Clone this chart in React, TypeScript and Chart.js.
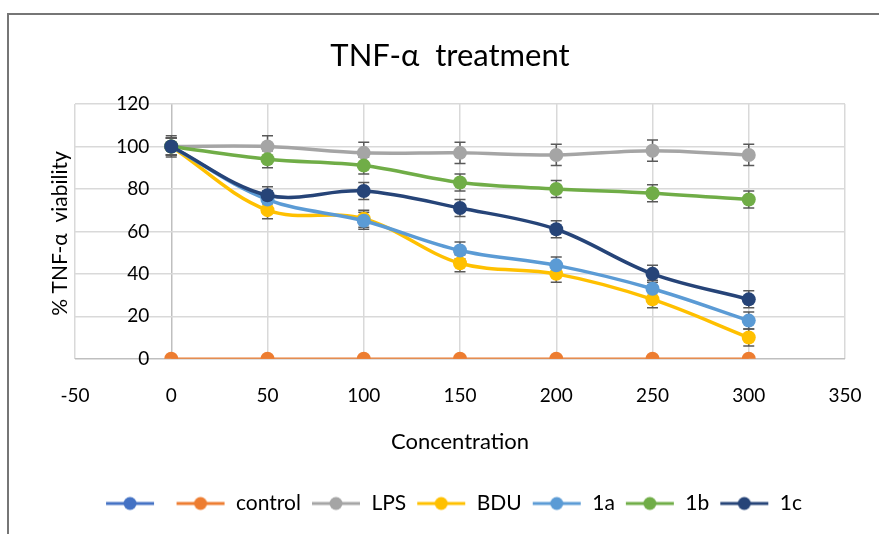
import React, { useEffect, useRef } from 'react';
import { Chart, registerables } from 'chart.js';

Chart.register(...registerables);

const concentrations = [0, 50, 100, 150, 200, 250, 300];
const seriesLabels = ['', 'control', 'LPS', 'BDU', '1a', '1b', '1c'];
const seriesColors = ['#4472C4', '#ED7D31', '#A5A5A5', '#FFC000', '#5B9BD5', '#70AD47', '#264478'];
const blankValues: number[] = [];
const controlValues = [0, 0, 0, 0, 0, 0, 0];
const lpsValues = [100, 100, 97, 97, 96, 98, 96];
const bduValues = [100, 70, 66, 45, 40, 28, 10];
const a1Values = [100, 75, 65, 51, 44, 33, 18];
const b1Values = [100, 94, 91, 83, 80, 78, 75];
const c1Values = [100, 77, 79, 71, 61, 40, 28];
const blankErrors: number[] = [];
const controlErrors: number[] = [];
const lpsErrors = [5, 5, 5, 5, 5, 5, 5];
const bduErrors = [4, 4, 4, 4, 4, 4, 4];
const a1Errors = [4, 4, 4, 4, 4, 4, 4];
const b1Errors = [4, 4, 4, 4, 4, 4, 4];
const c1Errors = [4, 4, 4, 4, 4, 4, 4];
const yTickValues = [0, 20, 40, 60, 80, 100, 120];

const chartTitle = 'TNF-\u03b1  treatment';
const yAxisTitle = '% TNF-\u03b1  viability';
const xAxisTitle = 'Concentration';
const FONT = 'Lato, "Noto Sans", sans-serif';

const allValues = [blankValues, controlValues, lpsValues, bduValues, a1Values, b1Values, c1Values];
const allErrors = [blankErrors, controlErrors, lpsErrors, bduErrors, a1Errors, b1Errors, c1Errors];

function makeIcon(color: string): HTMLCanvasElement {
  const c = document.createElement('canvas');
  c.width = 50;
  c.height = 16;
  const g = c.getContext('2d')!;
  g.strokeStyle = color;
  g.lineWidth = 3;
  g.beginPath();
  g.moveTo(1, 8);
  g.lineTo(49, 8);
  g.stroke();
  g.fillStyle = color;
  g.beginPath();
  g.arc(25, 8, 6.5, 0, Math.PI * 2);
  g.fill();
  return c;
}

const decorPlugin = {
  id: 'decor',
  beforeDraw(chart: any) {
    const ctx = chart.ctx;
    ctx.save();
    ctx.fillStyle = '#ffffff';
    ctx.fillRect(0, 0, chart.width, chart.height);
    ctx.strokeStyle = '#767676';
    ctx.lineWidth = 2;
    ctx.beginPath();
    ctx.moveTo(8, chart.height);
    ctx.lineTo(8, 14);
    ctx.lineTo(chart.width, 14);
    ctx.stroke();
    ctx.restore();
  },
  beforeDatasetsDraw(chart: any) {
    const ctx = chart.ctx;
    const xs = chart.scales.x;
    const ys = chart.scales.y;
    ctx.save();
    ctx.strokeStyle = '#595959';
    ctx.lineWidth = 1.5;
    allValues.forEach((vals, si) => {
      const errs = allErrors[si];
      vals.forEach((v, i) => {
        const e = errs[i];
        if (!e) return;
        const x = xs.getPixelForValue(concentrations[i]);
        const y1 = ys.getPixelForValue(v - e);
        const y2 = ys.getPixelForValue(v + e);
        ctx.beginPath();
        ctx.moveTo(x, y1);
        ctx.lineTo(x, y2);
        ctx.moveTo(x - 5.5, y1);
        ctx.lineTo(x + 5.5, y1);
        ctx.moveTo(x - 5.5, y2);
        ctx.lineTo(x + 5.5, y2);
        ctx.stroke();
      });
    });
    ctx.restore();
  },
  afterDraw(chart: any) {
    const ctx = chart.ctx;
    const xs = chart.scales.x;
    const ys = chart.scales.y;
    const area = chart.chartArea;
    ctx.save();
    ctx.fillStyle = '#000000';
    ctx.font = `31px ${FONT}`;
    ctx.textAlign = 'center';
    ctx.textBaseline = 'middle';
    ctx.fillText(chartTitle, 450, 56);

    ctx.font = `19px ${FONT}`;
    ctx.textAlign = 'right';
    const x0 = xs.getPixelForValue(0);
    yTickValues.forEach((v) => {
      ctx.fillText(String(v), x0 - 22, ys.getPixelForValue(v));
    });

    ctx.font = `21px ${FONT}`;
    ctx.textAlign = 'center';
    ctx.translate(60, (area.top + area.bottom) / 2 + 2);
    ctx.rotate(-Math.PI / 2);
    ctx.fillText(yAxisTitle, 0, 0);
    ctx.restore();
  },
};

export default function App() {
  const ref = useRef<HTMLCanvasElement | null>(null);
  useEffect(() => {
    if (!ref.current) return;
    const icons = seriesColors.map(makeIcon);
    const datasets = allValues.map((vals, si) => ({
      label: seriesLabels[si],
      data: vals.map((v, i) => ({ x: concentrations[i], y: v })),
      borderColor: seriesColors[si],
      backgroundColor: seriesColors[si],
      borderWidth: si === 1 ? 2.5 : 3.5,
      pointRadius: 7,
      pointHoverRadius: 7,
      pointBorderWidth: 0,
      tension: si === 1 ? 0 : 0.35,
      showLine: true,
      order: allValues.length - si,
    }));
    const chart = new Chart(ref.current, {
      type: 'scatter',
      data: { datasets },
      plugins: [decorPlugin],
      options: {
        animation: false,
        responsive: false,
        maintainAspectRatio: false,
        layout: { padding: { left: 62, right: 34, top: 104, bottom: 10 } },
        scales: {
          x: {
            type: 'linear',
            min: -50,
            max: 350,
            afterFit: (s: any) => {
              s.paddingLeft = 0;
              s.paddingRight = 0;
            },
            ticks: { stepSize: 50, padding: 26, color: '#000', font: { family: FONT, size: 19 } },
            grid: {
              drawTicks: false,
              color: (c: any) => (c.tick && c.tick.value === 0 ? '#bfbfbf' : '#d9d9d9'),
              lineWidth: 1.5,
            },
            border: { display: false },
            title: {
              display: true,
              text: xAxisTitle,
              color: '#000',
              font: { family: FONT, size: 22 },
              padding: { top: -5, bottom: 28 },
            },
          },
          y: {
            type: 'linear',
            min: 0,
            max: 120,
            afterFit: (s: any) => {
              s.width = 13;
            },
            ticks: { display: false, stepSize: 20 },
            grid: {
              drawTicks: false,
              color: (c: any) => (c.tick && c.tick.value === 0 ? '#bfbfbf' : '#d9d9d9'),
              lineWidth: 1.5,
            },
            border: { display: false },
          },
        },
        plugins: {
          tooltip: { enabled: false },
          title: { display: false },
          legend: {
            position: 'bottom',
            labels: {
              usePointStyle: true,
              pointStyleWidth: 50,
              padding: 10,
              color: '#000',
              font: { family: FONT, size: 21 },
              generateLabels: (ch: any) =>
                ch.data.datasets.map((ds: any, i: number) => ({
                  text: ds.label,
                  pointStyle: icons[i],
                  fillStyle: seriesColors[i],
                  strokeStyle: seriesColors[i],
                  lineWidth: 0,
                  hidden: false,
                  datasetIndex: i,
                  fontColor: '#000',
                })),
            },
          },
        },
      },
    } as any);
    return () => chart.destroy();
  }, []);
  return (
    <div style={{ position: 'fixed', left: 0, top: 0, width: 879, height: 534, overflow: 'hidden' }}>
      <canvas ref={ref} width={879} height={534} style={{ display: 'block', width: 879, height: 534 }} />
    </div>
  );
}
